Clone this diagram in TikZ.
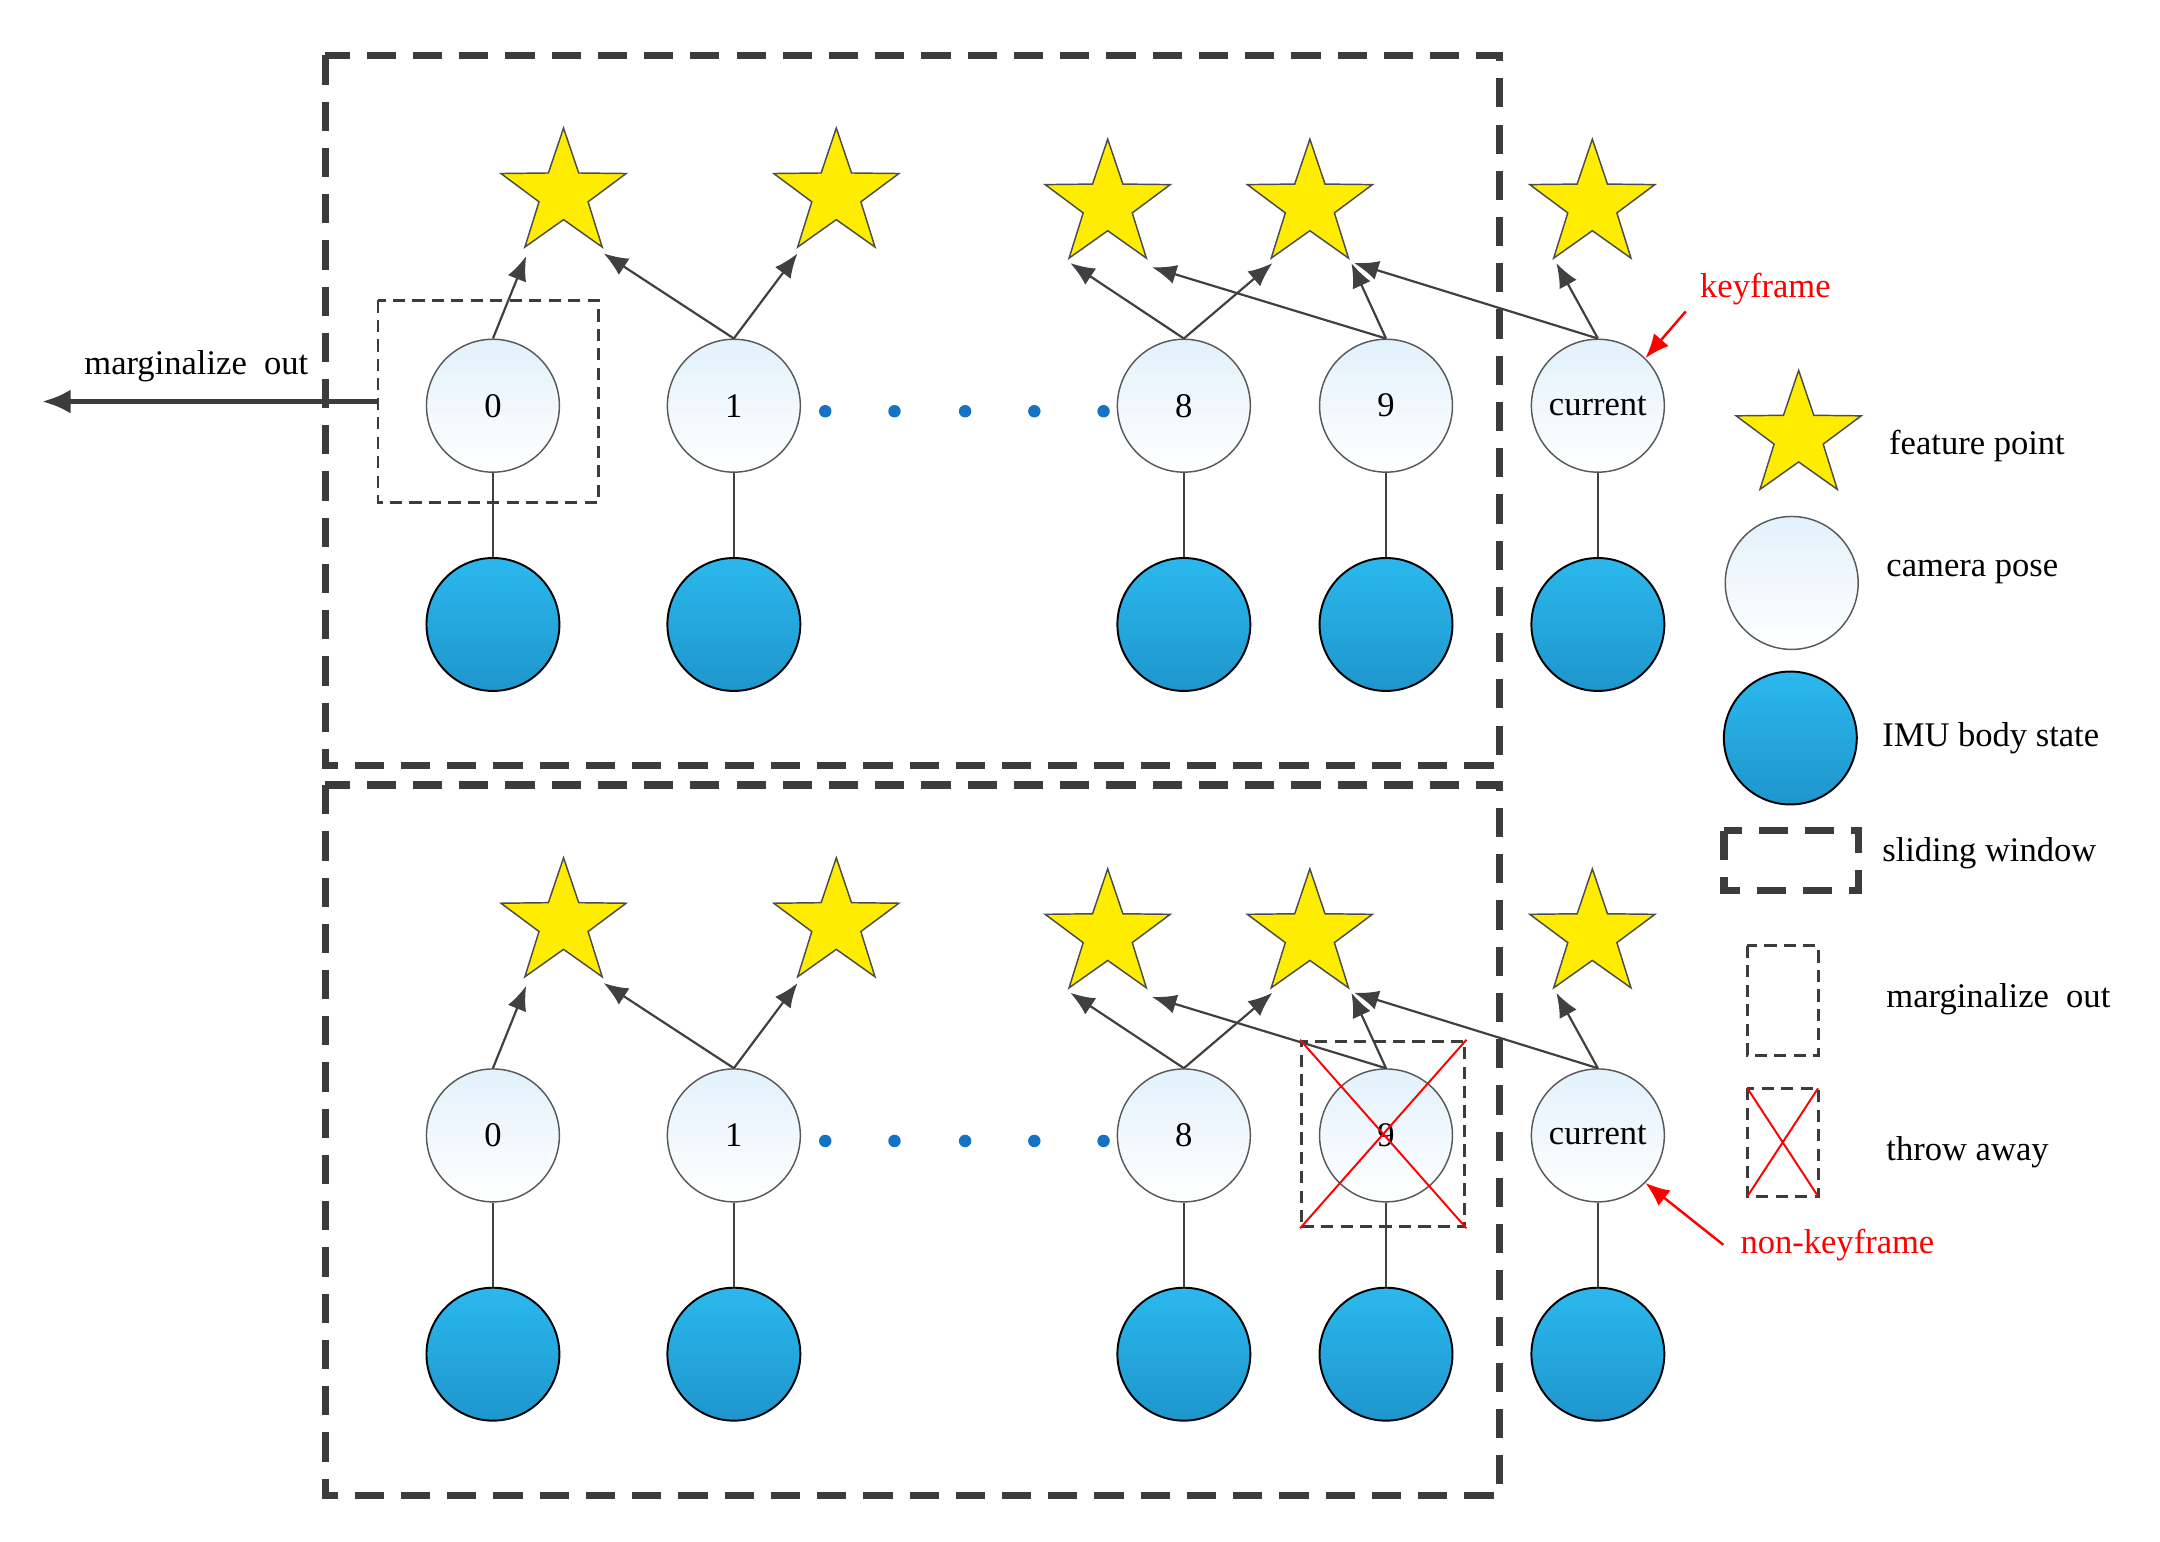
\documentclass[tikz,border=0pt]{standalone}
\usepackage{fontspec}
\setmainfont{Liberation Serif}
\usetikzlibrary{shapes.geometric,arrows.meta,positioning,calc}
\definecolor{winc}{HTML}{3C3C3C}
\definecolor{imutop}{HTML}{2BB8EE}
\definecolor{imubot}{HTML}{1E96CC}
\definecolor{camtop}{HTML}{E2F1FB}
\definecolor{dotc}{HTML}{1473C4}
\begin{document}
\begin{tikzpicture}[font=\fontsize{7.1}{8.5}\selectfont, line width=0.4pt]
\tikzset{
  cam/.style = {circle, draw=gray!70!black, line width=0.3pt, minimum size=0.96cm, inner sep=0pt, top color=camtop, bottom color=white},
  imu/.style = {circle, draw=black, line width=0.4pt, minimum size=0.96cm, inner sep=0pt, top color=imutop, bottom color=imubot},
  feat/.style = {star, star points=5, star point ratio=2.55, draw=black!70, line width=0.3pt, fill=yellow!95!orange, minimum size=0.95cm, inner sep=0pt},
  window/.style = {draw=winc, line width=1.5pt, dash pattern=on 6pt off 3.5pt},
  marg/.style = {draw=winc, line width=0.6pt, dash pattern=on 2.5pt off 1.5pt},
  obs/.style = {draw=black!75, line width=0.45pt, -{Latex[length=5pt,width=4pt]}},
  link/.style = {draw=black!75, line width=0.45pt},
  note/.style = {red, -{Latex[length=5pt,width=4pt]}, line width=0.5pt}
}
\useasboundingbox (0,0) rectangle (15.6,11.13);

% the two sliding windows
\foreach \p/\dy in {a/0, b/-5.27} {
  \begin{scope}[yshift=\dy cm]
  \draw[window] (2.35,10.73) rectangle (10.83,5.60);
  % feature points
  \node[feat] (s0\p) at (4.07,9.73) {};
  \node[feat] (s1\p) at (6.04,9.73) {};
  \node[feat] (s2\p) at (8.00,9.65) {};
  \node[feat] (s3\p) at (9.46,9.65) {};
  \node[feat] (s4\p) at (11.50,9.65) {};
  % camera poses
  \node[cam] (c0\p) at (3.56,8.20) {0};
  \node[cam] (c1\p) at (5.30,8.20) {1};
  \node[cam] (c8\p) at (8.55,8.20) {8};
  \node[cam] (c9\p) at (10.01,8.20) {9};
  \node[cam] (cc\p) at (11.54,8.20) {current};
  % IMU states
  \foreach \n/\x in {0/3.56, 1/5.30, 8/8.55, 9/10.01, c/11.54} {
    \node[imu] (i\n\p) at (\x,6.62) {};
    \draw[link] (c\n\p) -- (i\n\p);
  }
  % dots between 1 and 8
  \foreach \x in {5.96,6.46,6.97,7.47,7.97}
    \fill[dotc] (\x,8.16) circle (0.045);
  % observations
  \draw[obs] (c0\p.north) -- ($(s0\p)+(-0.27,-0.45)$);
  \draw[obs] (c1\p.north) -- ($(s0\p)+(0.29,-0.43)$);
  \draw[obs] (c1\p.north) -- ($(s1\p)+(-0.28,-0.43)$);
  \draw[obs] (c8\p.north) -- ($(s2\p)+(-0.27,-0.42)$);
  \draw[obs] (c8\p.north) -- ($(s3\p)+(-0.27,-0.42)$);
  \draw[obs] (c9\p.north) -- ($(s2\p)+(0.32,-0.45)$);
  \draw[obs] (c9\p.north) -- ($(s3\p)+(0.30,-0.42)$);
  \draw[obs] (cc\p.north) -- ($(s3\p)+(0.32,-0.42)$);
  \draw[obs] (cc\p.north) -- ($(s4\p)+(-0.26,-0.42)$);
  \end{scope}
}

% marginalize out oldest frame
\draw[marg] (2.73,8.96) rectangle (4.32,7.50);
\coordinate (mleft) at (0.30,8.23);
\draw[draw=winc, line width=1.2pt, -{Latex[length=6pt,width=5pt]}] (2.73,8.23) -- node[above, text=black, pos=0.54] {marginalize\ \ out} (mleft);

% throw away frame 9
\node[marg, draw, minimum width=1.18cm, minimum height=1.34cm] (drop) at (9.99,2.94) {};
\draw[red, line width=0.4pt] (drop.north west) -- (drop.south east);
\draw[red, line width=0.4pt] (drop.south west) -- (drop.north east);

% notes
\node[red] (kf) at (12.75,9.04) {keyframe};
\draw[note] ($(kf.south west)+(0.02,0.08)$) -- (cca.north east);
\node[red] (nkf) at (13.27,2.14) {non-keyframe};
\draw[note] (nkf.west) -- (ccb.south east);

% legend
\node[feat] (lstar) at (12.99,7.98) {};
\node[anchor=west] at (13.52,7.91) {feature point};
\node[cam] (lcam) at (12.94,6.92) {};
\node[anchor=west] at (13.50,7.00) {camera pose};
\node[imu] (limu) at (12.93,5.80) {};
\node[anchor=west] at (13.47,5.80) {IMU body state};
\draw[window] (12.45,5.13) rectangle (13.42,4.70);
\node[anchor=west] at (13.47,4.97) {sliding window};
\draw[marg] (12.62,4.30) rectangle (13.13,3.51);
\node[anchor=west] at (13.50,3.91) {marginalize\ \ out};
\draw[marg] (12.62,3.27) rectangle (13.13,2.49);
\draw[red, line width=0.4pt] (12.62,3.27) -- (13.13,2.49) (12.62,2.49) -- (13.13,3.27);
\node[anchor=west] at (13.50,2.81) {throw away};
\end{tikzpicture}
\end{document}
